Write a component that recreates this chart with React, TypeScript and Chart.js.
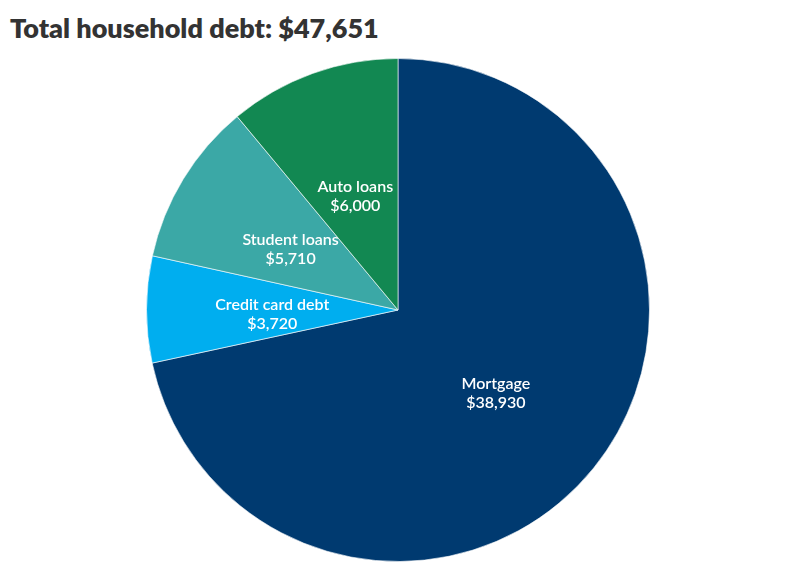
import { useEffect, useRef } from "react";
import { Chart, registerables } from "chart.js";

Chart.register(...registerables);

const TITLE = "Total household debt: $47,651";
const LABELS = ["Mortgage", "Credit card debt", "Student loans", "Auto loans"];
const VALUES = [38930, 3720, 5710, 6000];
const COLORS = ["#003a70", "#00aeef", "#3ba8a6", "#128852"];

const FONT = "Lato, 'Open Sans', sans-serif";

const sliceLabels = {
  id: "sliceLabels",
  afterDatasetsDraw(chart: Chart) {
    const { ctx } = chart;
    const meta = chart.getDatasetMeta(0);
    ctx.save();
    ctx.fillStyle = "#ffffff";
    ctx.textAlign = "center";
    ctx.textBaseline = "middle";
    ctx.font = `600 16px ${FONT}`;
    meta.data.forEach((arc: any, i: number) => {
      const { x, y } = arc.tooltipPosition();
      const value = "$" + VALUES[i].toLocaleString("en-US");
      ctx.fillText(LABELS[i], x, y - 5);
      ctx.fillText(value, x, y + 14);
    });
    ctx.restore();
  },
};

export default function App() {
  const canvasRef = useRef<HTMLCanvasElement>(null);
  const chartRef = useRef<Chart | null>(null);

  useEffect(() => {
    if (!canvasRef.current) return;
    const ctx = canvasRef.current.getContext("2d");
    if (!ctx) return;

    chartRef.current?.destroy();
    chartRef.current = new Chart(ctx, {
      type: "pie",
      data: {
        labels: LABELS,
        datasets: [
          {
            data: VALUES,
            backgroundColor: COLORS,
            borderColor: "rgba(255,255,255,0.6)",
            borderWidth: 1,
          },
        ],
      },
      options: {
        animation: false,
        responsive: true,
        maintainAspectRatio: false,
        layout: { padding: 0 },
        plugins: {
          legend: { display: false },
          tooltip: { enabled: false },
          title: { display: false },
        },
      },
      plugins: [sliceLabels],
    });

    return () => chartRef.current?.destroy();
  }, []);

  return (
    <div
      style={{
        position: "fixed",
        top: 0,
        left: 0,
        width: 794,
        height: 575,
        background: "#fff",
        fontFamily: FONT,
      }}
    >
      <div
        style={{
          position: "absolute",
          left: 10,
          top: 11,
          fontSize: 27,
          fontWeight: 800,
          color: "#333333",
          whiteSpace: "nowrap",
        }}
      >
        {TITLE}
      </div>
      <div style={{ position: "absolute", left: 146, top: 58, width: 504, height: 504 }}>
        <canvas ref={canvasRef} />
      </div>
    </div>
  );
}
